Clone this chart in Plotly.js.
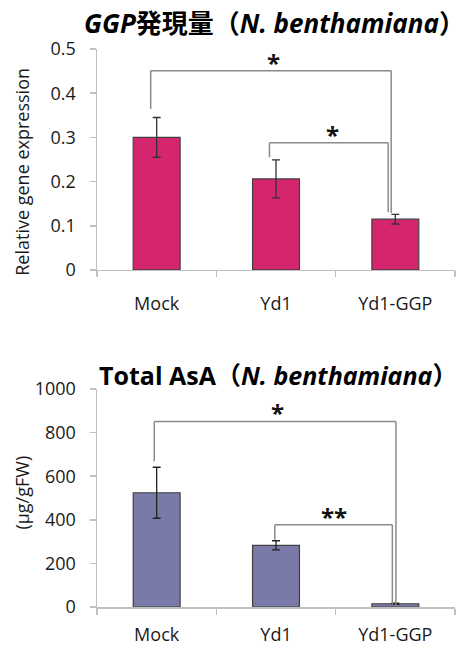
<!DOCTYPE html>
<html>
<head>
<meta charset="utf-8">
<script src="https://cdn.plot.ly/plotly-3.0.1.min.js"></script>
<style>html,body{margin:0;padding:0;background:#fff;}#chart{width:467px;height:649px;}</style>
</head>
<body>
<div id="chart"></div>
<script>
// ---- data ----
var categories = ["Mock", "Yd1", "Yd1-GGP"];
var ggpExpression = [0.300, 0.206, 0.115];
var ggpError = [0.045, 0.043, 0.011];
var asaTotal = [524, 283, 15];
var asaError = [117, 21, 3];

// significance brackets (category index positions, value levels)
var ggpSigLeftX = [-0.05, 0.945];
var ggpSigLeftY = [0.364, 0.255];
var ggpSigRightX = [1.965, 1.94];
var ggpSigRightY = [0.129, 0.131];
var ggpSigLevel = [0.451, 0.288];
var ggpSigLabel = ["*", "*"];
var ggpSigLabelX = [0.98, 1.47];

var asaSigLeftX = [-0.02, 0.99];
var asaSigLeftY = [668, 309];
var asaSigRightX = [2.005, 1.975];
var asaSigRightY = [6, 10];
var asaSigLevel = [851, 377];
var asaSigLabel = ["*", "**"];
var asaSigLabelX = [1.01, 1.49];

// ---- styles ----
var FONT = "Open Sans, Noto Sans CJK JP, sans-serif";
var TXT = "#1a1a1a";
var AXC = "#BFBFBF";
var BR = "#8a8a8a";

var traces = [
  {
    type: "bar", x: categories, y: ggpExpression, xaxis: "x", yaxis: "y",
    marker: {color: "#D5256F", line: {color: "#404040", width: 1.2}},
    error_y: {type: "data", array: ggpError, visible: true, color: "#333", thickness: 1.3, width: 4},
    hoverinfo: "x+y", showlegend: false
  },
  {
    type: "bar", x: categories, y: asaTotal, xaxis: "x2", yaxis: "y2",
    marker: {color: "#7A7AA8", line: {color: "#404040", width: 1.2}},
    error_y: {type: "data", array: asaError, visible: true, color: "#222", thickness: 1.3, width: 4},
    hoverinfo: "x+y", showlegend: false
  }
];

function brackets(xr, yr, lx, ly, rx, ry, lev, lab, labx, starSize) {
  var shapes = [], anns = [];
  for (var i = 0; i < lev.length; i++) {
    var ln = {color: BR, width: 1.5};
    shapes.push({type: "line", xref: xr, yref: yr, x0: lx[i], x1: lx[i], y0: ly[i], y1: lev[i], line: ln});
    shapes.push({type: "line", xref: xr, yref: yr, x0: lx[i], x1: rx[i], y0: lev[i], y1: lev[i], line: ln});
    shapes.push({type: "line", xref: xr, yref: yr, x0: rx[i], x1: rx[i], y0: lev[i], y1: ry[i], line: ln});
    anns.push({xref: xr, yref: yr, x: labx[i], y: lev[i], text: "<b>" + lab[i] + "</b>", showarrow: false,
      xanchor: "center", yanchor: "bottom", yshift: -10, font: {family: FONT, size: starSize, color: "#111"}});
  }
  return {shapes: shapes, anns: anns};
}

var b1 = brackets("x", "y", ggpSigLeftX, ggpSigLeftY, ggpSigRightX, ggpSigRightY, ggpSigLevel, ggpSigLabel, ggpSigLabelX, 24);
var b2 = brackets("x2", "y2", asaSigLeftX, asaSigLeftY, asaSigRightX, asaSigRightY, asaSigLevel, asaSigLabel, asaSigLabelX, 24);

var xax = {
  type: "category", showline: true, linecolor: AXC, linewidth: 1.5,
  ticks: "outside", tickson: "boundaries", ticklen: 6, tickcolor: AXC, tickwidth: 1.5,
  showgrid: false, zeroline: false, fixedrange: true,
  tickfont: {family: FONT, size: 18, color: TXT}, ticklabelstandoff: 17
};
var yaxBase = {
  showline: true, linecolor: AXC, linewidth: 1.5, ticks: "outside", ticklen: 6, tickcolor: AXC, tickwidth: 1.5,
  showgrid: false, zeroline: false, fixedrange: true,
  tickfont: {family: FONT, size: 18, color: TXT}, ticklabelstandoff: 10
};

var layout = {
  width: 467, height: 649,
  margin: {l: 97, r: 12, t: 49, b: 42},
  paper_bgcolor: "#fff", plot_bgcolor: "#fff",
  bargap: 0.607,
  xaxis: Object.assign({}, xax, {anchor: "y", domain: [0, 1]}),
  xaxis2: Object.assign({}, xax, {anchor: "y2", domain: [0, 1], ticklabelstandoff: 11}),
  yaxis: Object.assign({}, yaxBase, {anchor: "x", domain: [0.604, 1], range: [0, 0.5], dtick: 0.1, tickformat: ".1~f"}),
  yaxis2: Object.assign({}, yaxBase, {anchor: "x2", domain: [0, 0.3907], range: [0, 1000], dtick: 200}),
  shapes: b1.shapes.concat(b2.shapes),
  annotations: b1.anns.concat(b2.anns).concat([
    {xref: "paper", yref: "paper", x: 0.497, y: 1.047, xanchor: "center", yanchor: "middle", showarrow: false,
      text: "<b><i>GGP</i>発現量（<i>N. benthamiana</i>）</b>", font: {family: FONT, size: 26, color: "#000"}},
    {xref: "paper", yref: "paper", x: 0.505, y: 0.4158, xanchor: "center", yanchor: "middle", showarrow: false,
      text: "<b>Total AsA（<i>N. benthamiana</i>）</b>", font: {family: FONT, size: 25, color: "#000"}},
    {xref: "paper", yref: "paper", x: -0.2095, y: 0.78, xanchor: "center", yanchor: "middle", showarrow: false, textangle: -90,
      text: "Relative gene expression", font: {family: FONT, size: 18, color: TXT}},
    {xref: "paper", yref: "paper", x: -0.2095, y: 0.205, xanchor: "center", yanchor: "middle", showarrow: false, textangle: -90,
      text: "(μg/gFW)", font: {family: FONT, size: 18, color: TXT}}
  ])
};

Plotly.newPlot("chart", traces, layout, {displayModeBar: false, staticPlot: true});
</script>
</body>
</html>
